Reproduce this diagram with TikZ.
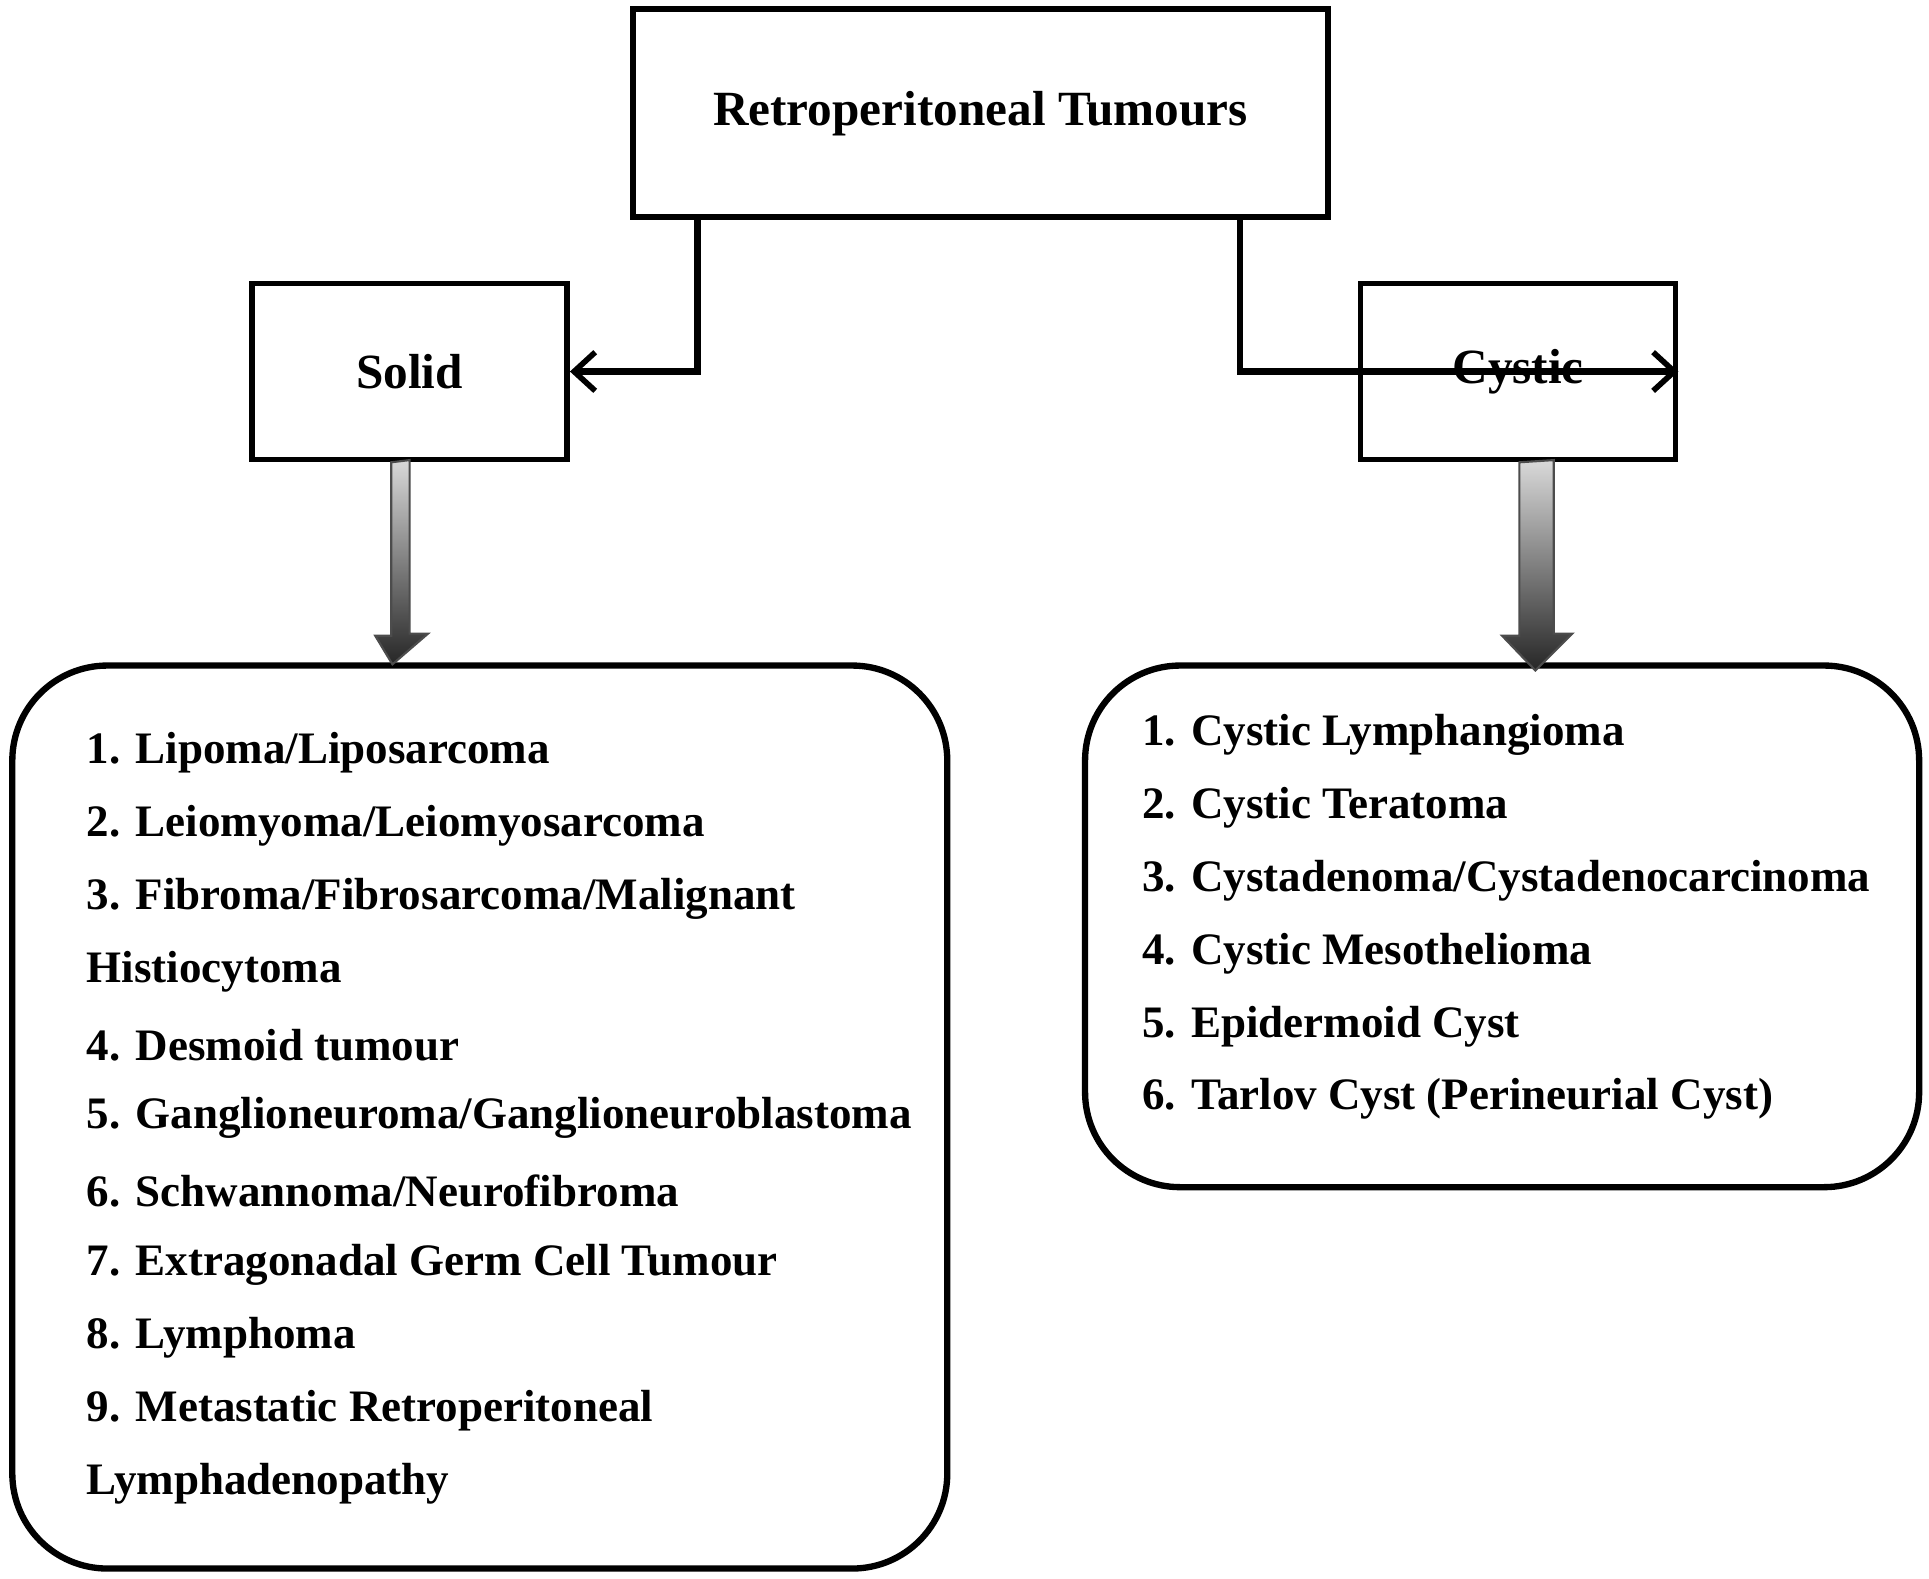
\documentclass[tikz,border=0pt]{standalone}
\usepackage{fontspec}
\setmainfont{Liberation Serif}
\usetikzlibrary{arrows.meta, positioning, calc}

\begin{document}
\begin{tikzpicture}[x=0.0123cm, y=-0.0123cm,
    box/.style={draw, line width=1.6pt, inner sep=0pt},
    listbox/.style={draw, line width=1.8pt, rounded corners=0.95cm, inner sep=0pt},
    item/.style={font=\fontsize{12.8pt}{15pt}\selectfont\bfseries, anchor=west, inner sep=0pt},
    link/.style={line width=1.8pt, -{Straight Barb[length=6pt, width=11pt, line width=1.6pt]}},
    bigarrow/.style={draw=black!70, line width=0.6pt, top color=black!15, bottom color=black!85} ]

    \useasboundingbox (0,0) rectangle (1568,1283);

    % Boxes
    \node[box, minimum width=565*0.0123cm, minimum height=169*0.0123cm,
      font=\fontsize{14pt}{16pt}\selectfont\bfseries] (top) at (797,92) {Retroperitoneal Tumours};
    \node[box, minimum width=256*0.0123cm, minimum height=143*0.0123cm,
      font=\fontsize{14pt}{16pt}\selectfont\bfseries] (solid) at (333,302) {Solid};
    \node[box, minimum width=256*0.0123cm, minimum height=143*0.0123cm,
      font=\fontsize{14pt}{16pt}\selectfont\bfseries] (cystic) at (1234,302) {Cystic};
    \node[listbox, minimum width=760*0.0123cm, minimum height=734*0.0123cm] (solidlist) at (390,908) {};
    \node[listbox, minimum width=678*0.0123cm, minimum height=424*0.0123cm] (cysticlist) at (1221,753) {};

    % Connectors
    \draw[link] (top.south -| 567,0) |- (solid.east);
    \draw[link] (top.south -| 1008,0) |- (cystic.east);

    % Shaded arrows
    \path[bigarrow] ($(solid.south)+(-15,0)$) -- ++(0,141) -- ++(-13,0) -- (319,540)
      -- (348,515) -- ++(-15,0) -- ++(0,-141) -- cycle;
    \path[bigarrow] ($(cystic.south)+(1,0)$) -- ++(0,141) -- ++(-14,0) -- (1248,545)
      -- (1278,515) -- ++(-15,0) -- ++(0,-141) -- cycle;

    % Solid list
    \foreach \t [count=\i] in {1. Lipoma/Liposarcoma, 2. Leiomyoma/Leiomyosarcoma,
      3. Fibroma/Fibrosarcoma/Malignant, Histiocytoma, 4. Desmoid tumour,
      5. Ganglioneuroma/Ganglioneuroblastoma, 6. Schwannoma/Neurofibroma,
      7. Extragonadal Germ Cell Tumour, 8. Lymphoma,
      9. Metastatic Retroperitoneal, Lymphadenopathy}
      \node[item] (s\i) at (70,{612+59.4*(\i-1)}) {\t};

    % Cystic list
    \foreach \t [count=\i] in {1. Cystic Lymphangioma, 2. Cystic Teratoma,
      3. Cystadenoma/Cystadenocarcinoma, 4. Cystic Mesothelioma,
      5. Epidermoid Cyst, 6. Tarlov Cyst (Perineurial Cyst)}
      \node[item] (c\i) at (928,{597+59.3*(\i-1)}) {\t};
\end{tikzpicture}
\end{document}
